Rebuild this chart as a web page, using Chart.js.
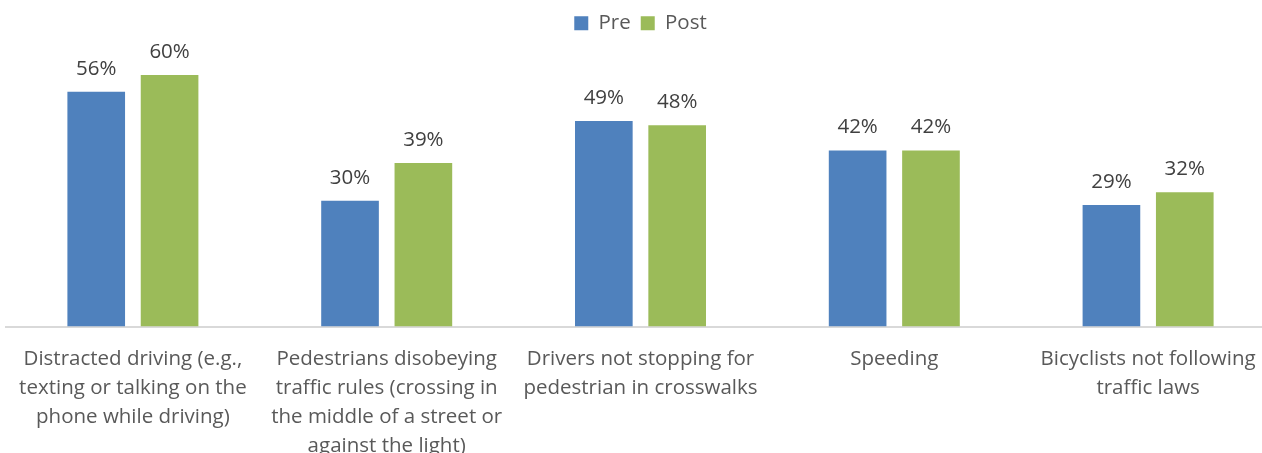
<!DOCTYPE html>
<html>
<head>
<meta charset="utf-8">
<script src="https://cdn.jsdelivr.net/npm/chart.js@4/dist/chart.umd.min.js"></script>
<style>
  html, body { margin: 0; padding: 0; background: #fff; overflow: hidden; }
  #wrap { position: absolute; left: 0; top: 0; width: 1275px; height: 479px; }
</style>
</head>
<body>
<div id="wrap"><canvas id="chart"></canvas></div>
<script>
const categories = [
    ['Distracted driving (e.g.,', 'texting or talking on the', 'phone while driving)'],
    ['Pedestrians disobeying', 'traffic rules (crossing in', 'the middle of a street or', 'against the light)'],
    ['Drivers not stopping for', 'pedestrian in crosswalks'],
    ['Speeding'],
    ['Bicyclists not following', 'traffic laws']
];
const preValues = [56, 30, 49, 42, 29];
const postValues = [60, 39, 48, 42, 32];

const textColor = '#595959';
const fontFamily = '"Open Sans", Lato, sans-serif';
const fontSize = 20.5;

// draws the "56%" labels above each bar
const barLabels = {
    id: 'barLabels',
    afterDatasetsDraw(chart) {
        const ctx = chart.ctx;
        ctx.save();
        ctx.font = fontSize + 'px ' + fontFamily;
        ctx.fillStyle = '#404040';
        ctx.textAlign = 'center';
        ctx.textBaseline = 'alphabetic';
        chart.data.datasets.forEach((ds, i) => {
            const meta = chart.getDatasetMeta(i);
            meta.data.forEach((bar, j) => {
                ctx.fillText(ds.data[j] + '%', bar.x, bar.y - 17);
            });
        });
        ctx.restore();
    }
};

new Chart(document.getElementById('chart').getContext('2d'), {
    type: 'bar',
    data: {
        labels: categories,
        datasets: [
            {
                label: 'Pre',
                data: preValues,
                backgroundColor: '#4F81BD',
                barPercentage: 0.786,
                categoryPercentage: 0.578
            },
            {
                label: 'Post',
                data: postValues,
                backgroundColor: '#9BBB59',
                barPercentage: 0.786,
                categoryPercentage: 0.578
            }
        ]
    },
    options: {
        responsive: true,
        maintainAspectRatio: false,
        animation: false,
        layout: {
            padding: { left: 6, right: 0, top: 3, bottom: 0 }
        },
        scales: {
            x: {
                grid: { display: false, drawTicks: false },
                border: { color: '#D9D9D9', width: 2 },
                ticks: {
                    color: textColor,
                    padding: 18,
                    maxRotation: 0,
                    autoSkip: false,
                    font: { family: fontFamily, size: fontSize, lineHeight: 1.42 }
                }
            },
            y: {
                display: false,
                min: 0,
                max: 67.5
            }
        },
        plugins: {
            legend: {
                display: true,
                position: 'top',
                labels: {
                    color: textColor,
                    boxWidth: 14,
                    boxHeight: 14,
                    padding: 10,
                    font: { family: fontFamily, size: fontSize }
                }
            },
            tooltip: { enabled: false }
        }
    },
    plugins: [barLabels]
});
</script>
</body>
</html>
